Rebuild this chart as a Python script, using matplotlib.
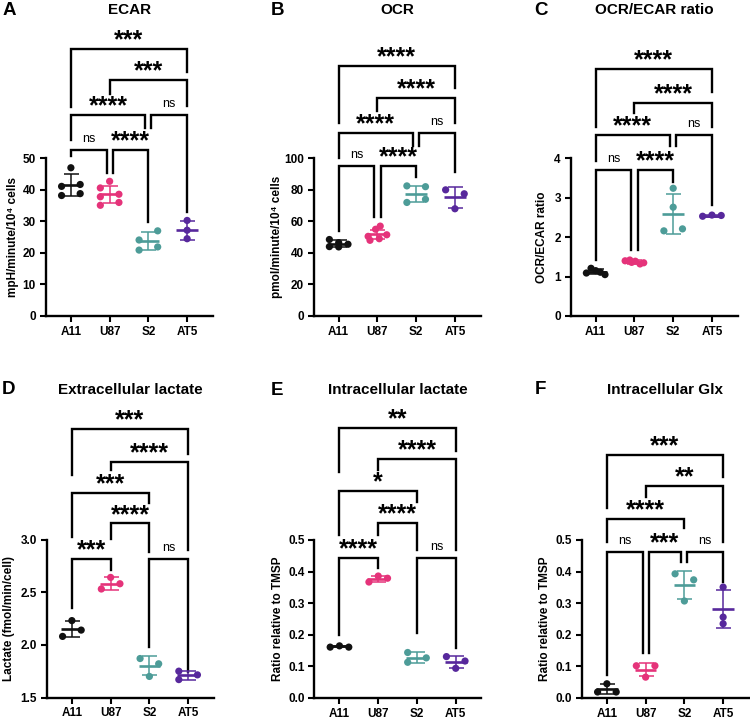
import matplotlib
matplotlib.use('Agg')
import matplotlib.pyplot as plt
import numpy as np

plt.rcParams['font.family'] = ['Liberation Sans', 'DejaVu Sans']

W, H = 750, 720
groups = ['A11', 'U87', 'S2', 'AT5']
colors = ['#111111', '#E5337A', '#4D9C98', '#57289C']

# ---------------- data ----------------
# A: ECAR
ecar_a11 = [47.0, 41.7, 41.1, 38.8, 38.2]
ecar_u87 = [42.7, 40.6, 38.6, 37.8, 36.0, 35.1]
ecar_s2 = [27.0, 24.1, 21.9, 20.9]
ecar_at5 = [30.3, 27.2, 24.5]
ecar_mean = [41.5, 38.6, 23.8, 27.2]
ecar_sd = [3.4, 2.75, 2.85, 2.95]
# B: OCR
ocr_a11 = [48.5, 46.5, 45.5, 44.0, 43.8]
ocr_u87 = [57.0, 55.0, 51.5, 50.5, 49.0, 48.0]
ocr_s2 = [82.5, 82.0, 74.0, 72.0]
ocr_at5 = [80.0, 77.5, 68.0]
ocr_mean = [45.8, 51.7, 77.3, 75.2]
ocr_sd = [2.1, 2.7, 5.0, 6.4]
# C: OCR/ECAR ratio
ratio_a11 = [1.09, 1.21, 1.15, 1.11, 1.05]
ratio_u87 = [1.40, 1.42, 1.39, 1.35, 1.32, 1.36]
ratio_s2 = [3.24, 2.76, 2.16, 2.21]
ratio_at5 = [2.53, 2.56, 2.55]
ratio_mean = [1.12, 1.37, 2.59, 2.54]
ratio_sd = [0.06, 0.04, 0.51, 0.02]
# D: Extracellular lactate
exlac_a11 = [2.23, 2.08, 2.14]
exlac_u87 = [2.64, 2.53, 2.58]
exlac_s2 = [1.87, 1.82, 1.70]
exlac_at5 = [1.75, 1.715, 1.67]
exlac_mean = [2.15, 2.58, 1.80, 1.71]
exlac_sd = [0.075, 0.06, 0.09, 0.045]
# E: Intracellular lactate
inlac_a11 = [0.161, 0.165, 0.161]
inlac_u87 = [0.367, 0.386, 0.379]
inlac_s2 = [0.144, 0.113, 0.127]
inlac_at5 = [0.131, 0.117, 0.094]
inlac_mean = [0.163, 0.377, 0.128, 0.114]
inlac_sd = [0.003, 0.010, 0.016, 0.019]
# F: Intracellular Glx
glx_a11 = [0.045, 0.019, 0.019]
glx_u87 = [0.102, 0.102, 0.066]
glx_s2 = [0.393, 0.374, 0.307]
glx_at5 = [0.351, 0.256, 0.235]
glx_mean = [0.028, 0.090, 0.358, 0.281]
glx_sd = [0.015, 0.021, 0.045, 0.060]

# significance labels: (group i, group j, label)
ecar_sig = [(0, 1, 'ns'), (1, 2, '****'), (0, 2, '****'), (2, 3, 'ns'), (1, 3, '***'), (0, 3, '***')]
ocr_sig = [(0, 1, 'ns'), (1, 2, '****'), (0, 2, '****'), (2, 3, 'ns'), (1, 3, '****'), (0, 3, '****')]
ratio_sig = [(0, 1, 'ns'), (1, 2, '****'), (0, 2, '****'), (2, 3, 'ns'), (1, 3, '****'), (0, 3, '****')]
exlac_sig = [(0, 1, '***'), (2, 3, 'ns'), (1, 2, '****'), (0, 2, '***'), (1, 3, '****'), (0, 3, '***')]
inlac_sig = [(0, 1, '****'), (2, 3, 'ns'), (1, 2, '****'), (0, 2, '*'), (1, 3, '****'), (0, 3, '**')]
glx_sig = [(0, 1, 'ns'), (1, 2, '***'), (2, 3, 'ns'), (0, 2, '****'), (1, 3, '**'), (0, 3, '***')]

# ---------------- layout (bracket geometry, point slots) ----------------
# bracket: (bar height, left leg bottom, right leg bottom)
ecar_br = [(52.6, 50.6, 45.3), (52.6, 45.3, 29.8), (63.8, 55.7, 59.7), (63.8, 59.7, 33.0), (74.9, 70.5, 66.5), (84.7, 66.2, 77.5)]
ocr_br = [(95.0, 54.2, 62.7), (95.0, 62.7, 88.1), (116.3, 100.0, 107.8), (116.3, 107.8, 91.5), (138.0, 130.0, 122.2), (158.6, 122.2, 144.4)]
ratio_br = [(3.70, 1.42, 1.67), (3.70, 1.67, 3.41), (4.59, 3.93, 4.30), (4.59, 4.30, 2.82), (5.41, 5.14, 4.80), (6.26, 4.80, 5.69)]
exlac_br = [(2.813, 2.345, 2.709), (2.813, 1.981, 1.744), (3.152, 3.009, 2.883), (3.446, 3.025, 3.342), (3.737, 3.658, 2.899), (4.047, 3.611, 3.816)]
inlac_br = [(0.444, 0.200, 0.410), (0.444, 0.205, 0.158), (0.555, 0.516, 0.468), (0.655, 0.516, 0.621), (0.756, 0.721, 0.468), (0.855, 0.716, 0.782)]
glx_br = [(0.463, 0.074, 0.142), (0.463, 0.142, 0.429), (0.463, 0.429, 0.368), (0.565, 0.495, 0.537), (0.671, 0.637, 0.495), (0.768, 0.600, 0.700)]

ecar_slots = [[0, 1, -1, 1, -1], [0, -1, 1, -1, 1, -1], [1, -1, 1, -1], [0, 0, 0]]
ocr_slots = [[-1, 0, 1, -1, 0], [0.3, -0.2, 1, -1, 0.2, -0.8], [-1, 1, 1, -1], [-1, 1, 0]]
ratio_slots = [[-1, -0.5, 0, 0.5, 1], [-1, -0.5, 0.1, 1, 0.6, -0.3], [0, 0, -1, 1], [-1, 0, 1]]
exlac_slots = [[0, -1, 1], [0, -1, 1], [-1, 1, 0], [-1, 1, -1]]
inlac_slots = [[-1, 0, 1], [-1, 0, 1], [-1, -1, 1], [-1, 1, 0]]
glx_slots = [[0, -1, 1], [-1, 1, 0], [-1, 1, 0], [0, 0, 0]]

panels = [
    dict(letter='A', title='ECAR', ylabel='mpH/minute/10⁴ cells',
         vals=[ecar_a11, ecar_u87, ecar_s2, ecar_at5], mean=ecar_mean, sd=ecar_sd,
         sig=ecar_sig, br=ecar_br, slots=ecar_slots, yt=np.arange(0, 51, 10), fmt='{:.0f}',
         left=45.7, ybot=316.0, ytop=158.3, axtop=20, letx=2.5, lety=10.5, ylx=12.7),
    dict(letter='B', title='OCR', ylabel='pmol/minute/10⁴ cells',
         vals=[ocr_a11, ocr_u87, ocr_s2, ocr_at5], mean=ocr_mean, sd=ocr_sd,
         sig=ocr_sig, br=ocr_br, slots=ocr_slots, yt=np.arange(0, 101, 20), fmt='{:.0f}',
         left=313.5, ybot=316.0, ytop=158.3, axtop=20, letx=270.5, lety=10.5, ylx=276.7),
    dict(letter='C', title='OCR/ECAR ratio', ylabel='OCR/ECAR ratio',
         vals=[ratio_a11, ratio_u87, ratio_s2, ratio_at5], mean=ratio_mean, sd=ratio_sd,
         sig=ratio_sig, br=ratio_br, slots=ratio_slots, yt=np.arange(0, 5, 1), fmt='{:.0f}',
         left=570.5, ybot=316.0, ytop=158.3, axtop=20, letx=534.3, lety=10.5, ylx=541.7),
    dict(letter='D', title='Extracellular lactate', ylabel='Lactate (fmol/min/cell)',
         vals=[exlac_a11, exlac_u87, exlac_s2, exlac_at5], mean=exlac_mean, sd=exlac_sd,
         sig=exlac_sig, br=exlac_br, slots=exlac_slots, yt=np.arange(1.5, 3.01, 0.5), fmt='{:.1f}',
         left=46.7, ybot=697.5, ytop=539.5, axtop=400, letx=1.7, lety=389.5, ylx=9.5),
    dict(letter='E', title='Intracellular lactate', ylabel='Ratio relative to TMSP',
         vals=[inlac_a11, inlac_u87, inlac_s2, inlac_at5], mean=inlac_mean, sd=inlac_sd,
         sig=inlac_sig, br=inlac_br, slots=inlac_slots, yt=np.arange(0, 0.51, 0.1), fmt='{:.1f}',
         left=314.3, ybot=698.0, ytop=540.0, axtop=400, letx=270.7, lety=390.5, ylx=278.3),
    dict(letter='F', title='Intracellular Glx', ylabel='Ratio relative to TMSP',
         vals=[glx_a11, glx_u87, glx_s2, glx_at5], mean=glx_mean, sd=glx_sd,
         sig=glx_sig, br=glx_br, slots=glx_slots, yt=np.arange(0, 0.51, 0.1), fmt='{:.1f}',
         left=581.7, ybot=698.0, ytop=540.0, axtop=400, letx=535.0, lety=390.0, ylx=545.0),
]

AXW = 167.0
XLIM = (-0.65, 3.66)
SLOT = 0.24
SHIFT = 0.08

fig = plt.figure(figsize=(W / 100, H / 100), dpi=100)

for p in panels:
    v0, v1 = p['yt'][0], p['yt'][-1]
    scale = (p['ybot'] - p['ytop']) / (v1 - v0)
    ymax = v0 + (p['ybot'] - p['axtop']) / scale
    ax = fig.add_axes([p['left'] / W, 1 - p['ybot'] / H, AXW / W, (p['ybot'] - p['axtop']) / H])
    ax.set_xlim(*XLIM)
    ax.set_ylim(v0, ymax)
    for s in ['top', 'right']:
        ax.spines[s].set_visible(False)
    for s in ['left', 'bottom']:
        ax.spines[s].set_linewidth(1.7)
    ax.spines['left'].set_bounds(v0, v1)
    ax.set_yticks(p['yt'])
    ax.set_yticklabels([p['fmt'].format(t) for t in p['yt']], fontsize=8.5, fontweight='bold')
    ax.set_xticks(range(4))
    ax.set_xticklabels(groups, fontsize=8.5, fontweight='bold')
    ax.tick_params(axis='both', width=1.5, length=4.2, pad=2.8)
    ax.patch.set_visible(False)

    # data
    for i, (vals, sl) in enumerate(zip(p['vals'], p['slots'])):
        c = colors[i]
        xs = i + np.array(sl) * SLOT
        ax.scatter(xs, vals, s=27, color=c, edgecolors='none', zorder=3, clip_on=False)
        ax.plot([i - 0.28, i + 0.28], [p['mean'][i]] * 2, color=c, lw=1.9, zorder=4,
                solid_capstyle='butt')
        ax.errorbar(i, p['mean'][i], yerr=p['sd'][i], fmt='none', ecolor=c,
                    elinewidth=1.1, capsize=5.4, capthick=1.1, zorder=4)

    # brackets
    for k, ((gi, gj, lab), (h, li, lj)) in enumerate(zip(p['sig'], p['br'])):
        xl, xr = float(gi), float(gj)
        for m, ((gi2, gj2, _), (h2, _, _)) in enumerate(zip(p['sig'], p['br'])):
            if m == k or abs(h2 - h) > 1e-9:
                continue
            if gj2 == gi:
                xl += SHIFT
            if gi2 == gj:
                xr -= SHIFT
        ax.plot([xl, xl, xr, xr], [li, h, h, lj], color='black', lw=1.7,
                solid_joinstyle='miter', clip_on=False)
        xm = (xl + xr) / 2
        if lab == 'ns':
            ax.annotate(lab, xy=(xm, h), xytext=(0, 5.6), textcoords='offset points',
                        ha='center', va='baseline', fontsize=9)
        else:
            ax.annotate(lab, xy=(xm, h), xytext=(0, 1.2), textcoords='offset points',
                        ha='center', va='baseline', fontsize=18, fontweight='bold')

    # title, letter, ylabel
    cx = (p['left'] + AXW / 2) / W
    fig.text(cx, 1 - p['lety'] / H, p['title'], ha='center', va='center',
             fontsize=11, fontweight='bold')
    fig.text(p['letx'] / W, 1 - p['lety'] / H, p['letter'], ha='left', va='center',
             fontsize=13.5, fontweight='bold')
    fig.text(p['ylx'] / W, 1 - (p['ybot'] + p['ytop']) / 2 / H, p['ylabel'],
             rotation=90, ha='center', va='center', fontsize=8.5, fontweight='bold')

fig.savefig('out.png', dpi=100)
